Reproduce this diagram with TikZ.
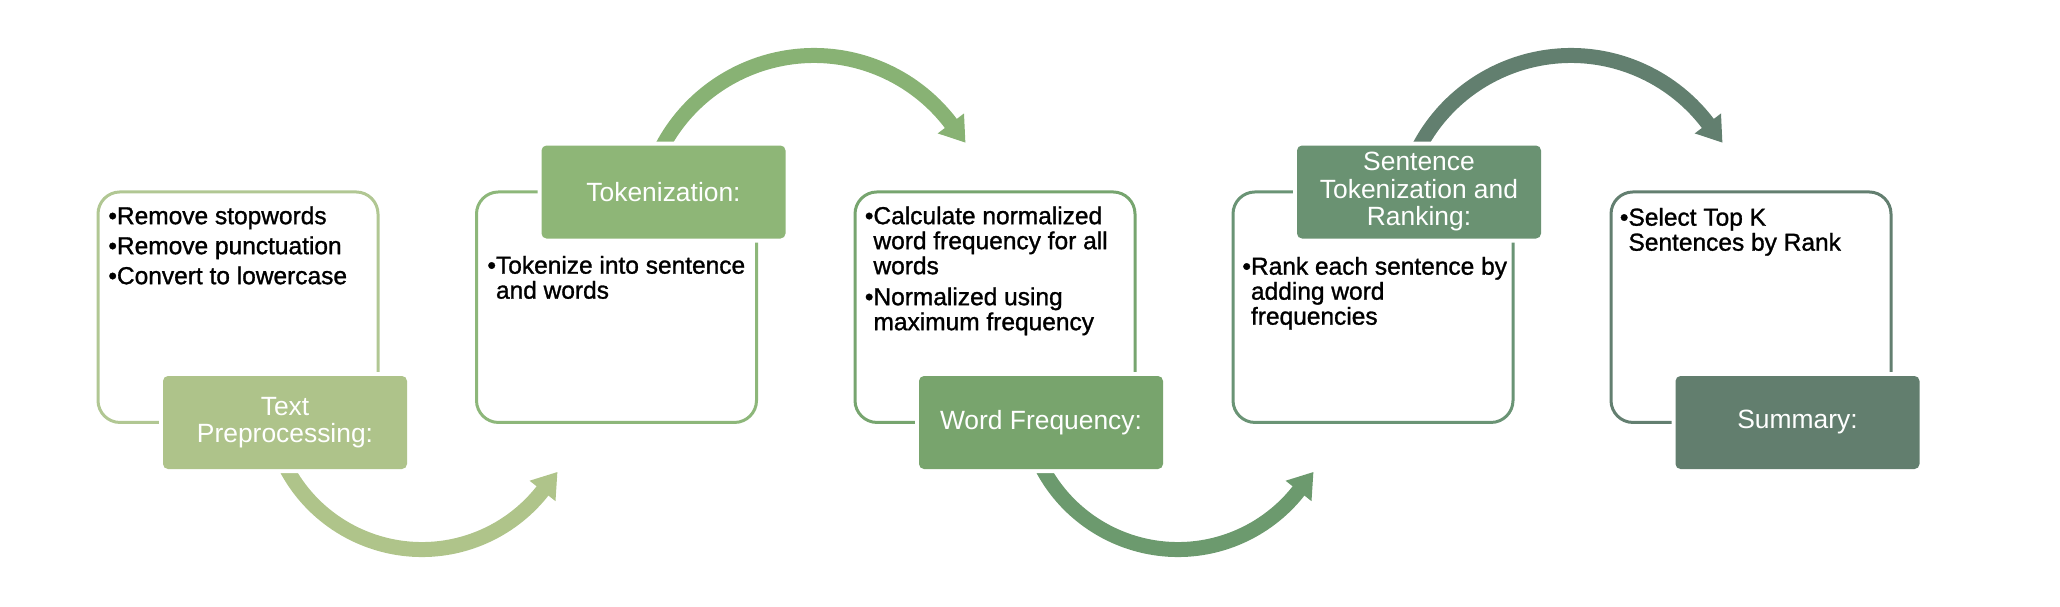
\documentclass[tikz,border=0pt]{standalone}
\usepackage{fontspec}
\setmainfont{Liberation Sans}
\newfontfamily\bodyfont[FakeBold=1.2]{Liberation Sans}
\usetikzlibrary{calc}
\definecolor{fillA}{HTML}{AEC38A}
\definecolor{fillB}{HTML}{8EB677}
\definecolor{fillC}{HTML}{78A46D}
\definecolor{fillD}{HTML}{6A9272}
\definecolor{fillE}{HTML}{627E6E}
\definecolor{lineA}{HTML}{B1C793}
\definecolor{lineB}{HTML}{8DB77A}
\definecolor{lineC}{HTML}{77A56F}
\definecolor{lineD}{HTML}{6A9475}
\definecolor{lineE}{HTML}{637F70}
\definecolor{arrA}{HTML}{AFC48A}
\definecolor{arrB}{HTML}{88B274}
\definecolor{arrC}{HTML}{6C9A6E}
\definecolor{arrD}{HTML}{627F6F}
\begin{document}
\begin{tikzpicture}[x=0.5pt,y=-0.5pt,
  outline/.style={draw=#1, line width=1.5pt, rounded corners=11pt,
    minimum width=140pt, minimum height=115.25pt, inner sep=0pt},
  stagelabel/.style={fill=#1, rounded corners=2.5pt, minimum width=122pt,
    minimum height=46.5pt, inner sep=0pt, text=white, align=center,
    font=\fontsize{13.2}{13.75}\selectfont,
    preaction={draw=white, line width=4pt}},
  btext/.style={anchor=north west, inner sep=0pt, align=left,
    font=\bodyfont\fontsize{12.25}{12.5}\selectfont},
  band/.style={draw=#1, line width=7.5pt},
  headtip/.style={fill=#1, draw=none}
]
\useasboundingbox (0,0) rectangle (2060,606);

% outline boxes
\node[outline=lineA] (b1) at (238,307.2) {};
\node[outline=lineB] (b2) at (616.5,307.2) {};
\node[outline=lineC] (b3) at (995,307.2) {};
\node[outline=lineD] (b4) at (1373,307.2) {};
\node[outline=lineE] (b5) at (1751,307.2) {};

% arc centres
\coordinate (c1) at (421.9,396);
\coordinate (c2) at (814,227.3);
\coordinate (c3) at (1177.9,396);
\coordinate (c4) at (1571,227.3);

% lower arrows
\draw[band=arrA] ($(c1)+(155:153.5)$) arc[start angle=155, end angle=37.5, radius=153.5];
\fill[headtip=arrA] ($(c1)+(38.2:170)$) -- ($(c1)+(38.2:153.5)+(-51.8:24)$) -- ($(c1)+(38.2:137)$) -- cycle;
\draw[band=arrC] ($(c3)+(155:153.5)$) arc[start angle=155, end angle=37.5, radius=153.5];
\fill[headtip=arrC] ($(c3)+(38.2:170)$) -- ($(c3)+(38.2:153.5)+(-51.8:24)$) -- ($(c3)+(38.2:137)$) -- cycle;

% upper arrows
\draw[band=arrB] ($(c2)+(205:171.8)$) arc[start angle=205, end angle=323.5, radius=171.8];
\fill[headtip=arrB] ($(c2)+(322.8:188.3)$) -- ($(c2)+(322.8:171.8)+(52.8:24)$) -- ($(c2)+(322.8:155.3)$) -- cycle;
\draw[band=arrD] ($(c4)+(205:171.8)$) arc[start angle=205, end angle=323.5, radius=171.8];
\fill[headtip=arrD] ($(c4)+(322.8:188.3)$) -- ($(c4)+(322.8:171.8)+(52.8:24)$) -- ($(c4)+(322.8:155.3)$) -- cycle;

% stage labels
\node[stagelabel=fillA] (l1) at (285,422.5) {Text\\Preprocessing:};
\node[stagelabel=fillB] (l2) at (663.5,192) {Tokenization:};
\node[stagelabel=fillC] (l3) at (1041,422.5) {Word Frequency:};
\node[stagelabel=fillD] (l4) at (1419,192) {Sentence\\Tokenization and\\Ranking:};
\node[stagelabel=fillE] (l5) at (1797.5,422.5) {Summary:};

% bullet texts
\node[btext] (t1) at (108,206) {•Remove stopwords\\[2.5pt]•Remove punctuation\\[2.5pt]•Convert to lowercase};
\node[btext] (t2) at (487,255.5) {•Tokenize into sentence\\\hphantom{•}and words};
\node[btext] (t3) at (864.5,206) {•Calculate normalized\\\hphantom{•}word frequency for all\\\hphantom{•}words\\[3pt]•Normalized using\\\hphantom{•}maximum frequency};
\node[btext] (t4) at (1242,256.5) {•Rank each sentence by\\\hphantom{•}adding word\\\hphantom{•}frequencies};
\node[btext] (t5) at (1619.5,207.5) {•Select Top K\\\hphantom{•}Sentences by Rank};
\end{tikzpicture}
\end{document}
